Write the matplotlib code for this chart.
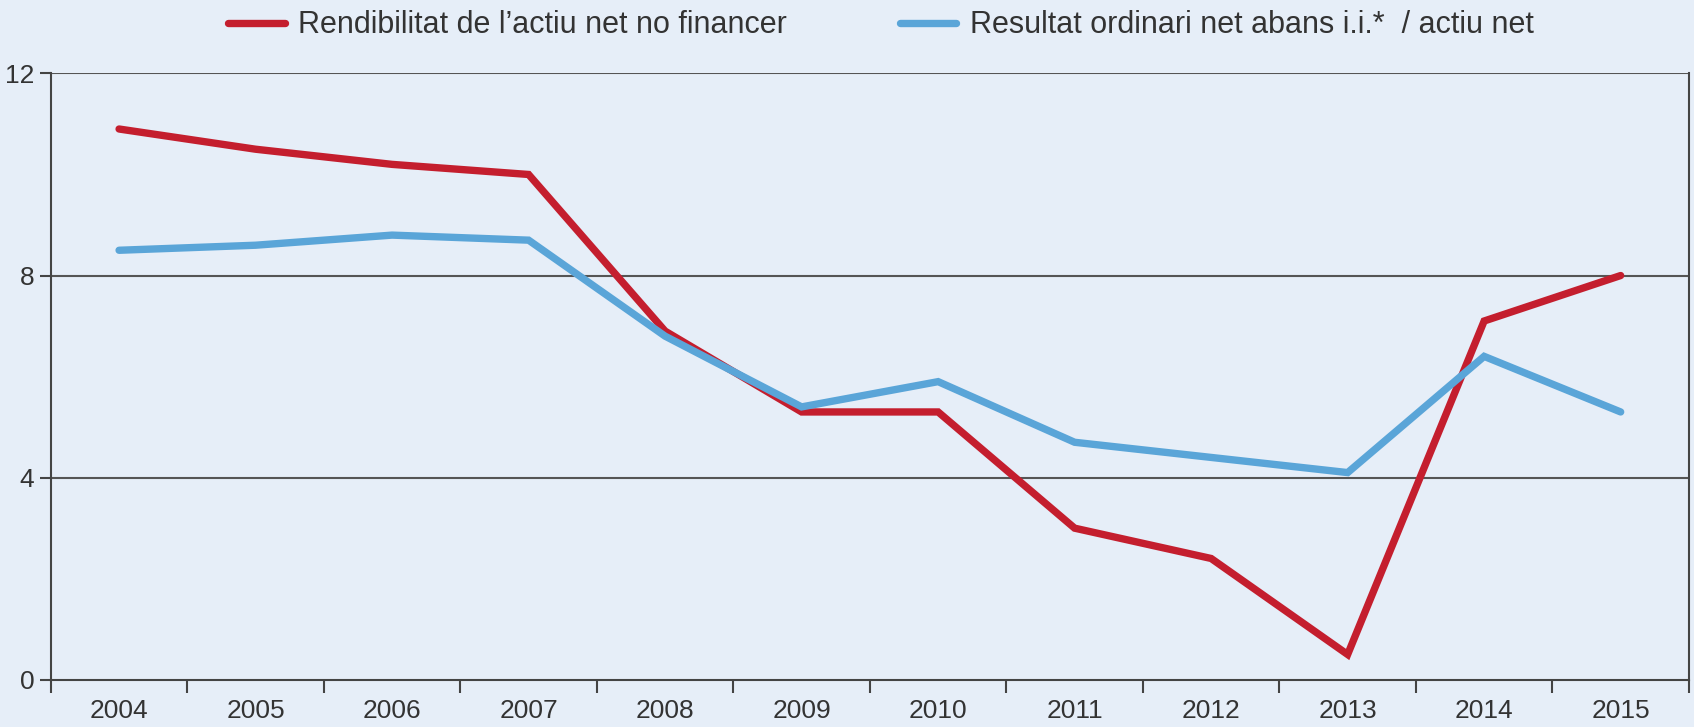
import matplotlib.pyplot as plt
import numpy as np

years = ['2004', '2005', '2006', '2007', '2008', '2009',
         '2010', '2011', '2012', '2013', '2014', '2015']
rendibilitat = [10.9, 10.5, 10.2, 10.0, 6.9, 5.3, 5.3, 3.0, 2.4, 0.5, 7.1, 8.0]
resultat = [8.5, 8.6, 8.8, 8.7, 6.8, 5.4, 5.9, 4.7, 4.4, 4.1, 6.4, 5.3]
y_ticks = [0, 4, 8, 12]
labels = ['Rendibilitat de l\u2019actiu net no financer',
          'Resultat ordinari net abans i.i.*  / actiu net']

bg = '#E6EEF8'
red = '#C41E2E'
blue = '#5AA5D8'
txt = '#333333'

plt.rcParams['font.family'] = ['Liberation Sans', 'DejaVu Sans']

fig = plt.figure(figsize=(16.94, 7.27), dpi=100, facecolor=bg)
ax = fig.add_axes([0.030, 0.065, 0.967, 0.834])
ax.set_facecolor(bg)

x = np.arange(len(years))
l1, = ax.plot(x, rendibilitat, color=red, lw=5.3, solid_capstyle='round',
              solid_joinstyle='miter', zorder=3)
l2, = ax.plot(x, resultat, color=blue, lw=5.3, solid_capstyle='round',
              solid_joinstyle='miter', zorder=3)

ax.set_xlim(-0.5, len(years) - 0.5)
ax.set_ylim(0, 12)
ax.set_yticks(y_ticks)
ax.set_yticklabels([str(v) for v in y_ticks], fontsize=19, color=txt)
ax.set_xticks(x)
ax.set_xticklabels(years, fontsize=19, color=txt)
ax.set_xticks(np.arange(-0.5, len(years)), minor=True)
ax.tick_params(axis='x', which='major', length=0, pad=14)
ax.tick_params(axis='x', which='minor', length=9, width=1.5, color='#444444', direction='out')
ax.tick_params(axis='y', length=8, width=1.5, color='#444444', direction='out', pad=4)

for v in y_ticks[1:]:
    ax.axhline(v, color='#555555', lw=1.5, zorder=1)
ax.spines['top'].set_visible(False)
for s in ['left', 'right', 'bottom']:
    ax.spines[s].set_color('#444444')
    ax.spines[s].set_linewidth(1.5)

# two separate legends so each entry sits where it does in the original
for line, lab, xpos in [(l1, labels[0], 0.1346), (l2, labels[1], 0.531)]:
    fig.legend([line], [lab], loc='center left', bbox_to_anchor=(xpos, 0.965),
               frameon=False, fontsize=22, handlelength=1.85, handletextpad=0.45,
               borderpad=0, borderaxespad=0, labelcolor=txt)

fig.savefig('out.png', dpi=100, facecolor=bg)
